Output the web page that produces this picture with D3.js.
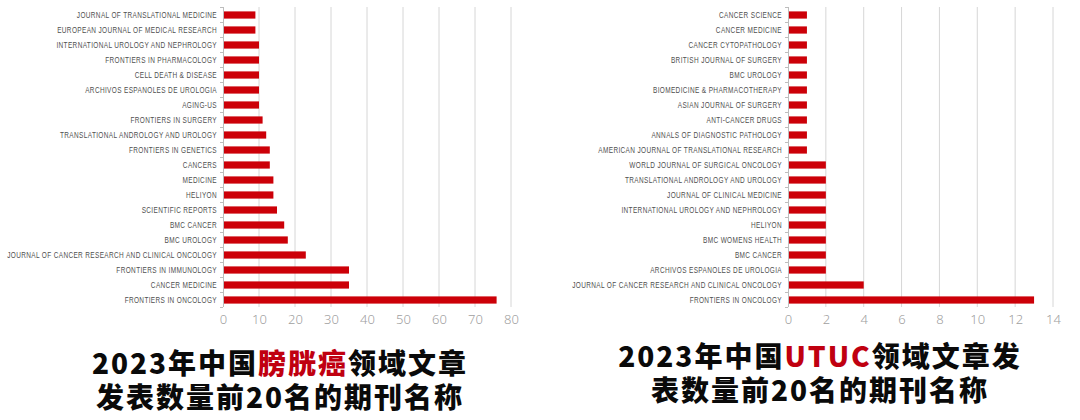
<!DOCTYPE html>
<html>
<head>
<meta charset="utf-8">
<script src="https://cdn.jsdelivr.net/npm/d3@7"></script>
<style>
  html, body { margin: 0; padding: 0; background: #fff; }
  svg { display: block; }
  .lbl { font-family: "Liberation Sans", Arial, sans-serif; font-size: 9px; fill: #505050; letter-spacing: 0.5px; }
  .tk { font-family: "Noto Sans", "DejaVu Sans", sans-serif; font-size: 13px; fill: #a0a0a0; font-weight: 300; }
  .ttl { font-family: "Noto Sans CJK SC", sans-serif; font-size: 28px; font-weight: 900; fill: #0a0a0a; letter-spacing: 2px; }
</style>
</head>
<body>
<svg id="chart" width="1080" height="420"></svg>
<script>
// 膀胱癌：期刊与发文数（自上而下）
var bladderJournals = [
  "JOURNAL OF TRANSLATIONAL MEDICINE", "EUROPEAN JOURNAL OF MEDICAL RESEARCH",
  "INTERNATIONAL UROLOGY AND NEPHROLOGY", "FRONTIERS IN PHARMACOLOGY",
  "CELL DEATH & DISEASE", "ARCHIVOS ESPANOLES DE UROLOGIA", "AGING-US",
  "FRONTIERS IN SURGERY", "TRANSLATIONAL ANDROLOGY AND UROLOGY", "FRONTIERS IN GENETICS",
  "CANCERS", "MEDICINE", "HELIYON", "SCIENTIFIC REPORTS", "BMC CANCER", "BMC UROLOGY",
  "JOURNAL OF CANCER RESEARCH AND CLINICAL ONCOLOGY", "FRONTIERS IN IMMUNOLOGY",
  "CANCER MEDICINE", "FRONTIERS IN ONCOLOGY"
];
var bladderCounts = [9, 9, 10, 10, 10, 10, 10, 11, 12, 13, 13, 14, 14, 15, 17, 18, 23, 35, 35, 76];
var bladderTicks = [0, 10, 20, 30, 40, 50, 60, 70, 80];

// UTUC：期刊与发文数（自上而下）
var utucJournals = [
  "CANCER SCIENCE", "CANCER MEDICINE", "CANCER CYTOPATHOLOGY", "BRITISH JOURNAL OF SURGERY",
  "BMC UROLOGY", "BIOMEDICINE & PHARMACOTHERAPY", "ASIAN JOURNAL OF SURGERY",
  "ANTI-CANCER DRUGS", "ANNALS OF DIAGNOSTIC PATHOLOGY", "AMERICAN JOURNAL OF TRANSLATIONAL RESEARCH",
  "WORLD JOURNAL OF SURGICAL ONCOLOGY", "TRANSLATIONAL ANDROLOGY AND UROLOGY",
  "JOURNAL OF CLINICAL MEDICINE", "INTERNATIONAL UROLOGY AND NEPHROLOGY", "HELIYON",
  "BMC WOMENS HEALTH", "BMC CANCER", "ARCHIVOS ESPANOLES DE UROLOGIA",
  "JOURNAL OF CANCER RESEARCH AND CLINICAL ONCOLOGY", "FRONTIERS IN ONCOLOGY"
];
var utucCounts = [1, 1, 1, 1, 1, 1, 1, 1, 1, 1, 2, 2, 2, 2, 2, 2, 2, 2, 4, 13];
var utucTicks = [0, 2, 4, 6, 8, 10, 12, 14];

var RED = "#cc0008", SQ = 0.72;
var svg = d3.select("#chart");

function barPanel(names, vals, ticks, x0, x1) {
  var g = svg.append("g");
  var x = d3.scaleLinear().domain([0, ticks[ticks.length - 1]]).range([x0, x1]);
  var y = d3.scaleBand().domain(names).range([7.5, 307.5]).paddingInner(0.52).paddingOuter(0.26);

  // 竖向网格线
  g.append("g").selectAll("line").data(ticks.slice(1)).enter().append("line")
    .attr("x1", function (d) { return x(d); }).attr("x2", function (d) { return x(d); })
    .attr("y1", 7).attr("y2", 307).attr("stroke", "#d6d6d6").attr("stroke-width", 1);

  // 横轴刻度文字
  var ax = g.append("g").attr("transform", "translate(0,307)")
    .call(d3.axisBottom(x).tickValues(ticks).tickSize(0).tickPadding(8));
  ax.select(".domain").remove();
  ax.selectAll("text").attr("class", "tk").attr("font-family", null).attr("font-size", null).attr("fill", null);

  // 条形
  g.append("g").selectAll("rect").data(names).enter().append("rect")
    .attr("x", x(0)).attr("y", function (d) { return y(d); })
    .attr("width", function (d, i) { return x(vals[i]) - x(0); })
    .attr("height", y.bandwidth()).attr("fill", RED);

  // 纵轴与类目标签
  var ay = g.append("g").attr("transform", "translate(" + x(0) + ",0)")
    .call(d3.axisLeft(y).tickSize(0).tickPadding(0));
  ay.select(".domain").attr("stroke", "#bdbdbd").attr("d", "M0.5,7V307");
  ay.selectAll("text").attr("class", "lbl").attr("font-family", null).attr("font-size", null).attr("fill", null)
    .attr("x", -6 / SQ).attr("transform", "scale(" + SQ + ",1)");
  // 类目分隔小刻度
  g.append("g").selectAll("line").data(d3.range(names.length + 1)).enter().append("line")
    .attr("x1", x(0) - 3).attr("x2", x(0))
    .attr("y1", function (i) { return 7.5 + i * y.step(); }).attr("y2", function (i) { return 7.5 + i * y.step(); })
    .attr("stroke", "#bdbdbd");
}

barPanel(bladderJournals, bladderCounts, bladderTicks, 223, 511);
barPanel(utucJournals, utucCounts, utucTicks, 788, 1053);

// 标题：两行放在同一个 text 里，红色关键词用 tspan
function title(cx, y1, gap, pre, hot, post, line2) {
  var t = svg.append("text").attr("class", "ttl").attr("text-anchor", "middle").attr("y", y1);
  t.append("tspan").attr("x", cx).text(pre);
  t.append("tspan").style("fill", "#c00010").text(hot);
  t.append("tspan").text(post);
  t.append("tspan").attr("x", cx).attr("dy", gap).text(line2);
}
title(280, 374, 34, "2023年中国", "膀胱癌", "领域文章", "发表数量前20名的期刊名称");
title(820, 367, 34, "2023年中国", "UTUC", "领域文章发", "表数量前20名的期刊名称");
</script>
</body>
</html>
